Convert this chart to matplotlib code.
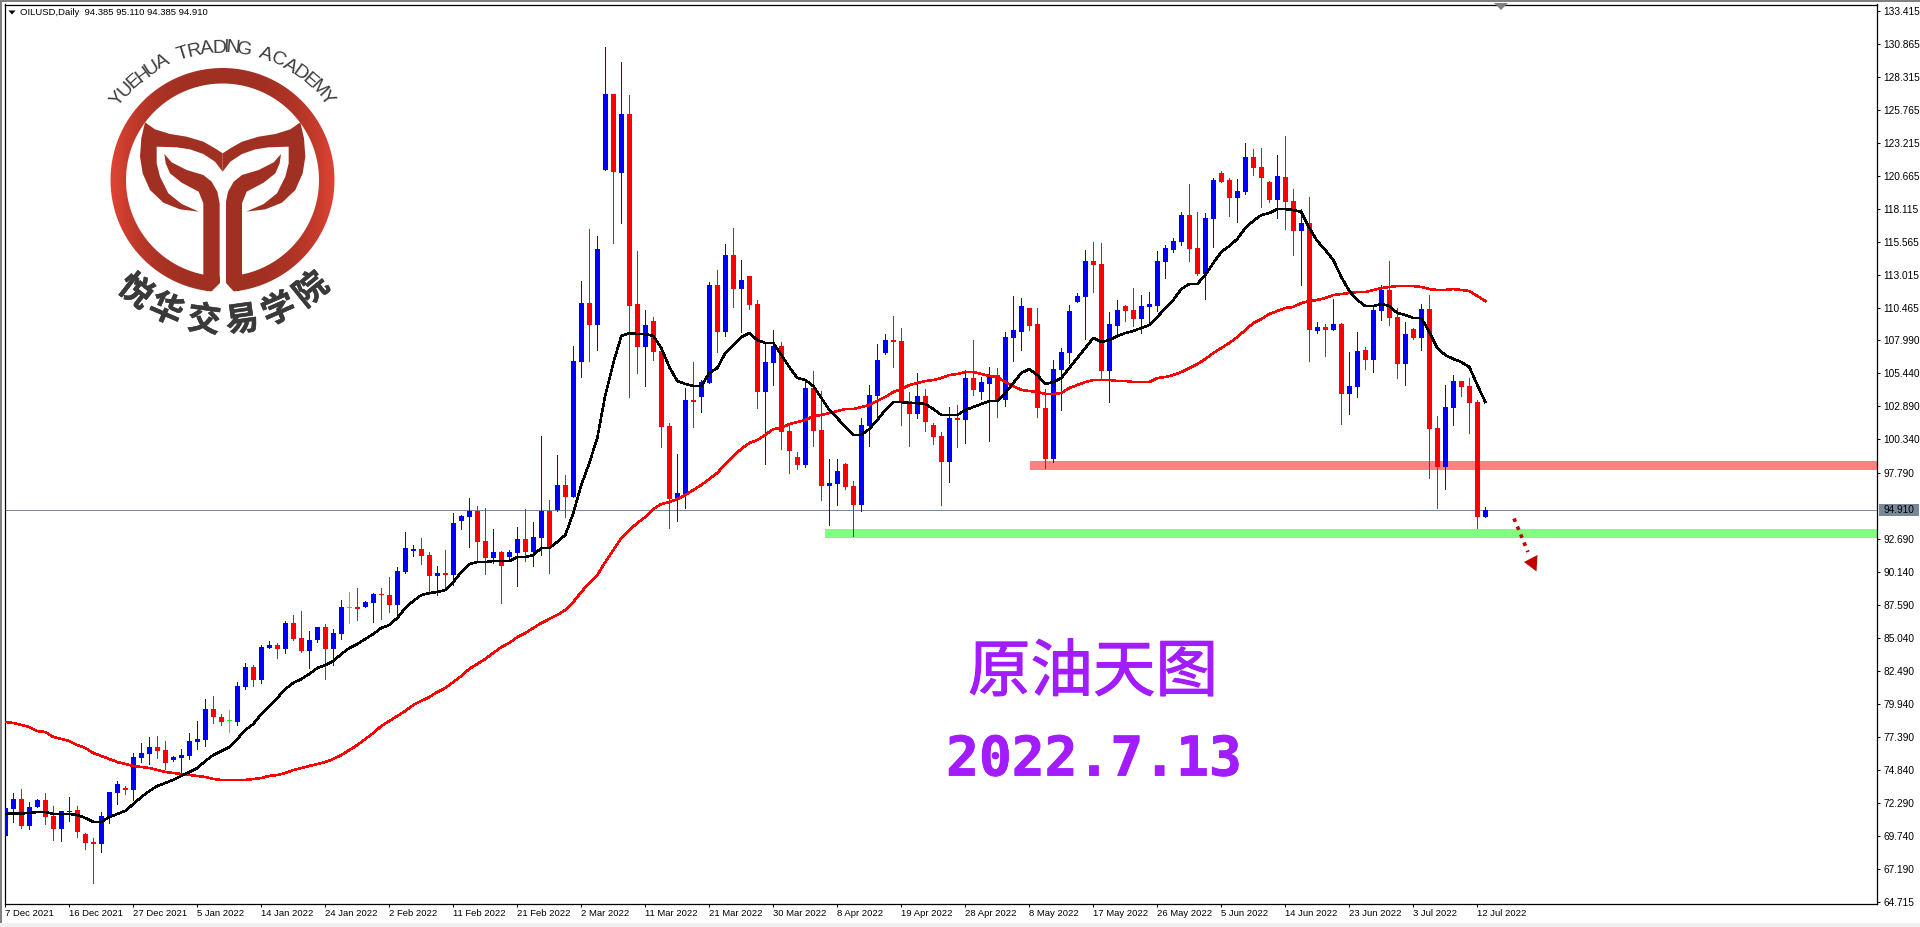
import numpy as np
import matplotlib
matplotlib.use("Agg")
import matplotlib.pyplot as plt
import matplotlib.patheffects as pe
from matplotlib.patches import Polygon, Rectangle, PathPatch
from matplotlib.path import Path
from matplotlib.textpath import TextPath
from matplotlib.font_manager import FontProperties

W, H = 1920, 927

# daily candles, Dec 2021 - Jul 2022
opens = [69.79,71.85,72.62,70.56,72.01,72.55,71.31,70.31,71.62,71.77,
69.93,69.31,69.18,71.18,73.08,73.47,73.34,75.78,76.09,76.63,
76.40,75.63,75.78,75.94,77.01,77.17,79.56,78.94,78.60,78.56,
81.26,82.80,81.80,84.26,84.50,84.19,86.19,85.03,84.03,84.88,
85.88,84.19,85.34,87.38,87.42,87.42,87.73,88.43,88.35,87.58,
90.12,91.74,91.90,91.43,89.81,90.05,89.89,94.06,94.36,94.83,
92.51,91.21,91.67,91.28,91.59,92.67,91.67,92.74,94.83,94.90,
96.83,95.91,106.31,110.86,109.17,121.12,126.98,120.89,125.43,110.79,
107.47,109.47,107.16,101.38,95.75,96.06,103.39,103.62,104.70,112.25,
108.63,114.56,111.94,112.95,110.79,104.00,106.24,107.55,101.00,99.00,
98.37,104.31,101.07,96.76,96.91,98.45,96.76,95.29,101.38,103.69,
107.01,108.01,107.93,103.31,102.30,103.69,101.46,100.61,98.60,101.99,
101.84,105.08,104.00,104.62,105.31,103.39,108.17,108.63,110.48,109.24,
102.77,98.84,105.70,107.01,110.94,111.33,114.10,113.87,105.62,109.09,
110.63,110.32,109.63,110.55,110.63,114.03,114.95,115.57,117.65,115.10,
113.10,117.34,120.89,120.35,118.96,119.42,122.12,121.35,120.19,118.81,
120.58,118.73,116.41,117.03,108.71,109.01,108.78,109.24,103.85,104.39,
107.24,106.47,110.25,111.87,109.78,106.16,108.86,108.17,110.40,101.23,
98.22,102.77,104.85,104.46,103.23,94.385]

highs = [73.08,73.06,73.39,72.37,72.62,73.08,72.08,71.72,72.77,72.08,
70.00,69.61,71.62,73.18,74.01,73.62,76.17,76.94,77.40,77.48,
77.09,75.94,76.48,77.71,78.63,80.33,80.56,79.17,79.48,81.64,
83.11,82.95,84.50,84.80,84.65,86.34,86.81,87.12,85.57,85.88,
86.11,85.73,87.97,88.58,88.89,87.89,88.50,88.89,89.74,90.51,
93.21,92.21,92.74,91.67,90.59,91.82,94.67,94.52,95.83,95.21,
95.06,93.44,91.74,91.82,93.59,94.98,93.98,100.61,95.68,99.14,
97.60,107.55,112.56,116.57,116.03,130.60,126.98,129.45,126.90,114.87,
110.32,109.78,107.16,101.61,99.22,104.31,106.31,104.93,112.48,113.41,
115.41,116.65,114.18,112.95,111.10,107.78,108.78,107.86,101.46,99.38,
104.93,105.62,104.08,98.84,98.84,98.53,97.14,101.97,104.54,107.70,
108.47,109.86,108.94,104.00,105.47,104.23,101.61,100.92,102.84,103.00,
105.70,108.01,105.16,105.93,105.85,108.63,111.40,111.25,110.48,110.48,
104.23,106.47,107.39,110.71,111.63,114.95,115.57,115.49,110.17,111.10,
110.71,112.02,111.48,111.71,114.87,115.33,115.87,117.88,120.04,117.88,
117.80,120.50,121.04,120.50,120.43,123.20,122.74,122.81,120.27,122.27,
123.74,119.65,118.11,119.04,109.40,109.24,111.17,109.32,107.09,108.63,
107.47,110.71,112.25,114.10,110.48,109.40,108.94,110.79,111.48,102.15,
104.54,105.31,104.85,105.08,103.39,95.11]

lows = [69.67,70.87,70.41,70.33,72.01,70.69,69.49,69.41,70.93,69.72,
68.77,66.15,68.56,70.79,72.26,73.00,72.55,75.47,75.32,75.78,
74.93,75.55,74.55,75.71,76.48,76.71,78.48,78.33,77.79,78.33,
81.10,81.33,81.57,84.26,83.49,83.88,84.88,83.96,82.72,84.73,
81.87,82.95,84.96,86.19,86.42,87.42,86.27,86.50,87.04,86.73,
90.05,91.36,90.74,88.43,88.35,88.89,89.12,93.44,92.05,90.89,
89.97,90.82,87.73,91.05,89.05,90.97,90.59,91.43,90.05,94.83,
94.36,95.91,105.16,106.39,107.24,121.12,115.49,117.03,103.62,105.47,
104.46,106.47,99.76,93.52,94.06,95.06,101.30,102.46,104.70,107.09,
108.32,110.55,108.63,110.40,102.77,98.45,104.54,99.61,97.76,98.06,
98.22,99.84,95.68,93.75,95.29,96.52,92.90,94.83,99.84,102.07,
106.93,105.93,101.46,99.84,101.99,101.00,99.99,95.29,97.06,99.76,
100.07,103.77,103.46,100.22,102.07,102.92,106.39,107.24,108.78,102.07,
98.14,98.60,102.61,106.24,110.94,108.09,111.71,105.08,103.23,108.32,
109.47,109.09,108.55,109.17,110.25,112.79,114.80,115.33,114.10,113.02,
111.17,115.18,120.19,117.57,117.11,119.27,120.73,118.27,118.65,117.42,
116.57,114.56,112.25,106.39,108.55,106.78,108.78,101.53,102.30,103.62,
105.77,105.54,109.55,109.17,105.08,104.54,108.09,107.24,97.37,95.06,
96.52,101.46,103.69,100.84,93.52,94.385]

closes = [71.93,72.62,70.56,72.01,72.55,71.26,70.31,71.67,71.69,70.10,
69.23,69.18,71.31,73.16,73.78,73.34,75.86,76.17,76.63,76.32,
75.40,75.86,76.01,77.09,77.25,79.56,78.94,78.56,78.60,81.33,
82.80,81.80,84.34,84.50,84.19,86.19,84.96,84.03,84.88,85.88,
84.19,85.42,87.42,87.38,87.27,87.81,88.43,88.35,87.58,90.20,
91.97,91.90,91.36,89.81,90.05,89.89,93.90,94.44,94.83,92.44,
91.21,91.67,90.59,91.67,92.67,91.67,92.82,94.83,91.97,96.83,
95.91,106.39,110.86,109.17,115.03,126.98,120.96,125.43,110.63,107.47,
109.17,107.09,101.30,95.75,96.21,103.39,103.23,104.77,112.25,108.63,
114.56,111.94,112.64,110.71,104.00,106.31,107.55,100.92,99.45,98.37,
104.31,101.00,96.76,96.99,97.91,96.68,95.29,101.46,103.77,106.47,
108.01,107.86,103.31,102.30,103.69,101.69,100.53,98.60,101.99,101.84,
105.08,104.16,104.77,105.24,103.39,108.24,108.78,110.63,109.09,102.77,
98.84,105.77,107.09,110.25,111.40,114.10,113.79,105.62,109.24,110.32,
110.25,109.63,110.63,110.79,114.10,115.10,115.64,117.65,115.03,113.10,
117.42,120.35,120.19,118.96,119.50,122.12,121.27,120.50,118.81,120.66,
118.65,116.41,117.03,108.78,109.01,108.78,109.24,103.85,104.46,107.16,
106.47,110.32,111.87,109.71,106.16,108.47,108.17,110.40,101.15,98.22,
102.84,104.85,104.39,103.15,94.36,94.91]

ma_fast = [71.47,71.51,71.51,71.54,71.62,71.62,71.47,71.47,71.47,71.39,
71.16,70.85,70.85,71.23,71.47,71.70,72.24,72.77,73.24,73.62,
73.86,74.09,74.40,74.70,75.01,75.55,76.01,76.32,76.63,77.25,
77.94,78.40,79.17,79.79,80.41,81.10,81.57,81.87,82.26,82.72,
82.95,83.26,83.80,84.26,84.57,84.96,85.34,85.81,86.04,86.58,
87.35,87.89,88.35,88.50,88.58,88.74,89.35,90.12,90.74,90.89,
90.89,90.97,90.97,90.97,91.28,91.28,91.43,91.97,91.97,92.44,
92.98,94.67,96.83,98.53,100.46,103.77,106.24,108.32,108.55,108.47,
108.47,108.32,107.39,105.93,104.85,104.62,104.46,104.46,105.47,105.85,
107.01,107.62,108.24,108.55,108.01,107.78,107.78,106.85,105.93,105.08,
104.93,104.46,103.54,102.61,101.99,101.30,100.69,100.69,101.15,101.84,
102.61,103.23,103.23,103.15,103.15,103.08,102.69,102.23,102.23,102.23,
102.61,102.84,103.08,103.31,103.31,103.92,104.70,105.47,105.77,105.31,
104.62,104.77,105.08,105.85,106.62,107.39,108.17,107.86,108.01,108.32,
108.55,108.71,108.94,109.17,109.78,110.48,111.10,111.94,112.33,112.33,
113.02,113.95,114.80,115.26,115.80,116.65,117.19,117.65,117.80,118.11,
118.11,118.03,117.88,116.65,115.64,114.95,114.18,112.87,111.79,111.10,
110.63,110.63,110.79,110.63,110.09,109.94,109.71,109.71,108.63,107.39,
106.85,106.55,106.31,105.93,104.54,103.23]

ma_slow = [78.56,78.48,78.33,78.17,77.86,77.79,77.40,77.25,77.09,76.78,
76.55,76.17,75.94,75.71,75.47,75.32,75.17,75.09,75.01,74.86,
74.70,74.63,74.55,74.47,74.40,74.32,74.16,74.09,74.09,74.09,
74.09,74.16,74.24,74.40,74.47,74.63,74.86,75.01,75.17,75.32,
75.47,75.71,76.01,76.40,76.78,77.25,77.71,78.25,78.63,79.02,
79.41,79.87,80.18,80.48,80.87,81.18,81.64,82.10,82.65,83.03,
83.42,83.88,84.34,84.65,85.11,85.42,85.81,86.19,86.50,86.81,
87.19,87.81,88.58,89.28,89.89,90.89,91.82,92.74,93.36,93.90,
94.36,94.98,95.37,95.52,95.75,96.06,96.45,96.83,97.29,97.76,
98.45,99.07,99.61,100.07,100.30,100.69,101.15,101.23,101.53,101.69,
101.84,102.15,102.23,102.38,102.54,102.69,102.69,102.84,103.00,103.31,
103.62,104.00,104.23,104.54,104.70,104.85,104.93,105.08,105.31,105.39,
105.54,105.54,105.39,105.24,105.16,104.77,104.46,104.16,104.08,104.00,
103.85,103.85,103.92,104.31,104.54,104.77,104.93,104.93,104.93,104.85,
104.85,104.77,104.77,104.77,105.08,105.16,105.31,105.54,105.85,106.16,
106.54,107.01,107.39,107.78,108.24,108.78,109.32,109.63,110.02,110.25,
110.48,110.56,110.86,111.02,111.10,111.25,111.48,111.56,111.63,111.71,
111.71,111.87,112.02,112.10,112.17,112.17,112.17,112.10,111.94,111.87,
111.87,111.94,111.87,111.79,111.40,111.02]

price_ticks = [133.415,130.865,128.315,125.765,123.215,120.665,118.115,115.565,
113.015,110.465,107.990,105.440,102.890,100.340,97.790,92.690,90.140,87.590,
85.040,82.490,79.940,77.390,74.840,72.290,69.740,67.190,64.715]
date_labels = ["7 Dec 2021","16 Dec 2021","27 Dec 2021","5 Jan 2022","14 Jan 2022",
"24 Jan 2022","2 Feb 2022","11 Feb 2022","21 Feb 2022","2 Mar 2022","11 Mar 2022",
"21 Mar 2022","30 Mar 2022","8 Apr 2022","19 Apr 2022","28 Apr 2022","8 May 2022",
"17 May 2022","26 May 2022","5 Jun 2022","14 Jun 2022","23 Jun 2022","3 Jul 2022",
"12 Jul 2022"]
last_price = 94.910
resistance = (97.99, 98.68, 128.1)   # low, high, first bar
support = (92.74, 93.44, 102.5)

UI_FONT = "Liberation Sans"
fig = plt.figure(figsize=(W / 100, H / 100), dpi=100, facecolor="white")

# chart area in pixels: x 4.5..1877.5, y 4.5..904
ax = fig.add_axes([4.5 / W, 1 - 904 / H, (1877.5 - 4.5) / W, (904 - 4.5) / H])
ax.set_xlim(-0.1, 234.025)
ax.set_ylim(64.525, 133.88)

idx = np.arange(len(opens))
o, h, l, c = map(np.array, (opens, highs, lows, closes))
cols = np.where(c > o, "#0000ff", np.where(c < o, "#ff0000", "#00ff00"))

ax.add_patch(Rectangle((resistance[2], resistance[0]), 300, resistance[1] - resistance[0],
                       fc="#ff8080", ec="none", zorder=1))
ax.add_patch(Rectangle((support[2], support[0]), 300, support[1] - support[0],
                       fc="#80ff80", ec="none", zorder=1))
ax.axhline(last_price, color="#778899", lw=0.72, antialiased=False, zorder=1.5)

ax.vlines(idx, l, h, colors=cols, lw=0.72, antialiased=False, zorder=2)
tops = np.maximum(o, c)
bots = np.minimum(o, c)
ax.bar(idx, np.maximum(tops - bots, 0.08), bottom=bots, width=5.4 / 8, color=cols, lw=0,
       antialiased=False, zorder=3)

ax.plot(idx, ma_slow, color="#ff0000", lw=1.1, antialiased=False, zorder=4)
ax.plot(idx, ma_fast, color="#000000", lw=1.1, antialiased=False, zorder=5)

ax.yaxis.tick_right()
ax.set_yticks(price_ticks, ["%.3f" % p for p in price_ticks])
ax.set_xticks(idx[::8], date_labels, ha="left")
ax.tick_params(axis="y", length=2.2, width=0.72, pad=2, labelsize=7.3)
ax.tick_params(axis="x", length=2.2, width=0.72, pad=1.5, labelsize=6.8)
for t in ax.get_xticklabels() + ax.get_yticklabels():
    t.set_family(UI_FONT)
for s in ax.spines.values():
    s.set_linewidth(0.9)

# everything below is drawn in picture pixels
ov = fig.add_axes([0, 0, 1, 1], facecolor="none")
ov.set_xlim(0, W)
ov.set_ylim(H, 0)
ov.axis("off")

# window border
ov.add_patch(Rectangle((0, 0), W, 2, fc="#808080", ec="none"))
ov.add_patch(Rectangle((0, 0), 2, H, fc="#808080", ec="none"))
ov.add_patch(Rectangle((0, 923), W, 4, fc="#f0f0f0", ec="none"))

# header and markers
ov.add_patch(Polygon([(8.5, 10.5), (15.5, 10.5), (12, 14.5)], fc="black", ec="none"))
ov.text(20, 12.5, "OILUSD,Daily  94.385 95.110 94.385 94.910", fontsize=6.8,
        family=UI_FONT, va="center", ha="left", color="black")
ov.add_patch(Polygon([(1494, 3), (1508, 3), (1501, 10)], fc="#808080", ec="none", zorder=8))
y_last = (134.225 - last_price) / 0.0771
ov.add_patch(Rectangle((1879, y_last - 6), 40, 12, fc="#778899", ec="none"))
ov.text(1883, y_last, "94.910", fontsize=7.3, family=UI_FONT, va="center", ha="left", color="black")

# logo ring, darker towards the middle
cx, cy = 222.5, 180
grad_x = np.abs(np.linspace(-1, 1, 200))[None, :]
grad = np.zeros((1, 200, 3))
grad[..., 0] = (160 + 66 * grad_x ** 3) / 255
grad[..., 1] = (48 + 20 * grad_x ** 3) / 255
grad[..., 2] = (34 + 18 * grad_x ** 3) / 255
im = ov.imshow(grad, extent=(cx - 113, cx + 113, cy + 113, cy - 113), aspect="auto", zorder=2)
theta = np.linspace(0, 2 * np.pi, 200)
ring_verts = np.r_[np.c_[cx + 112 * np.cos(theta), cy + 112 * np.sin(theta)],
                   np.c_[cx + 96.5 * np.cos(theta[::-1]), cy + 96.5 * np.sin(theta[::-1])]]
ring_codes = [Path.LINETO] * len(ring_verts)
ring_codes[0] = Path.MOVETO
ring_codes[200] = Path.MOVETO
ring = PathPatch(Path(ring_verts, ring_codes), transform=ov.transData, fc="none", ec="none")
ov.add_patch(ring)
im.set_clip_path(ring)
ov.set_xlim(0, W)
ov.set_ylim(H, 0)

LOGO = "#a03022"
MID = 668  # logo centre line in the 3x crop


def logo_poly(pts):
    # points noted from the 3x crop, left half; right half is mirrored
    pts = np.array(pts, float) / 3
    ov.add_patch(Polygon(pts, fc=LOGO, ec="none", zorder=3))
    mir = pts.copy()
    mir[:, 0] = 2 * MID / 3 - mir[:, 0]
    ov.add_patch(Polygon(mir, fc=LOGO, ec="none", zorder=3))


logo_poly([(435, 367), (465, 388), (510, 402), (560, 410), (610, 425), (645, 445), (668, 460),
           (668, 515), (645, 485), (610, 462), (570, 448), (530, 442), (470, 440), (470, 490),
           (480, 530), (505, 580), (545, 612), (597, 635), (540, 628), (490, 608), (450, 570),
           (428, 520), (420, 470), (424, 415)])
logo_poly([(493, 462), (515, 487), (560, 510), (610, 525), (635, 545), (652, 575), (659, 610),
           (659, 850), (640, 868), (620, 874), (610, 860), (610, 610), (596, 575), (545, 548),
           (510, 520), (497, 490)])
# gap between stem halves and clipped ring corners
ov.add_patch(Rectangle((659 / 3, 190), (677 - 659) / 3, 105, fc="white", ec="none", zorder=4))
ov.add_patch(Polygon([(219.7, 283), (219.7, 295), (208, 295)], fc="white", ec="none", zorder=4))
ov.add_patch(Polygon([(225.6, 283), (225.6, 295), (237, 295)], fc="white", ec="none", zorder=4))

# curved academy name
name = "YUEHUA TRADING ACADEMY"
fp = FontProperties(family="Liberation Sans", size=14)
sizes = [TextPath((0, 0), ch if ch != " " else "n", prop=fp).get_extents().width for ch in name]
rad = 127.5
angs = np.cumsum(sizes) - np.array(sizes) / 2
angs = angs - (angs[0] + angs[-1]) / 2
angs = angs * 52 / angs[-1]
for ch, a in zip(name, angs):
    t = np.radians(a)
    ov.text(cx + rad * np.sin(t), cy - rad * np.cos(t), ch, fontproperties=fp, color="#3c3c3c",
            rotation=-a, rotation_mode="anchor", ha="center", va="baseline", zorder=5)

cn_angles = [38, 23.5, 7.5, -8, -23.5, -39]
for ch, a in zip("悦华交易学院", cn_angles):
    t = np.radians(a)
    ov.text(cx - 142 * np.sin(t), cy + 142 * np.cos(t), ch, color="#3a3a3a", fontsize=24,
            family="Noto Sans CJK SC", weight="bold", rotation=-a, rotation_mode="anchor",
            ha="center", va="center", zorder=5,
            path_effects=[pe.withStroke(linewidth=0.4, foreground="#3a3a3a")])

# chart captions
ov.text(1093, 673, "原油天图", color="#a31cff", fontsize=45, family="Noto Sans CJK SC",
        ha="center", va="center", zorder=6,
        path_effects=[pe.withStroke(linewidth=0.8, foreground="#a31cff")])
ov.text(1094, 760, "2022.7.13", color="#a31cff", fontsize=39.3, family="DejaVu Sans Mono",
        weight="bold", ha="center", va="center", zorder=6,
        path_effects=[pe.withStroke(linewidth=0.6, foreground="#a31cff")])

# dotted arrow under the support zone
ov.plot([1514, 1528], [518.5, 552], color="#c00000", lw=2.6, ls=(0, (1, 1.4)), zorder=6)
ov.add_patch(Polygon([(1524, 562), (1537.5, 555), (1536.5, 571.5)], fc="#c00000", ec="none", zorder=6))

fig.savefig("out.png", dpi=100, facecolor="white")
